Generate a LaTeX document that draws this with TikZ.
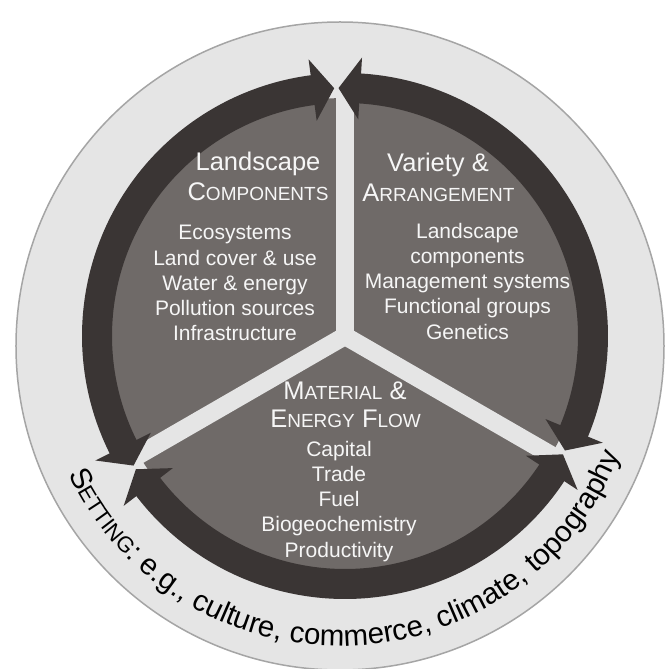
\documentclass[tikz,border=0pt]{standalone}
\usepackage{fontspec}
\setmainfont{Liberation Sans}
\usetikzlibrary{decorations.text}
\definecolor{bgring}{RGB}{229,229,229}
\definecolor{rimgray}{RGB}{165,165,165}
\definecolor{arrowdark}{RGB}{58,53,52}
\definecolor{sectorgray}{RGB}{111,106,104}
\definecolor{lighttext}{RGB}{246,246,246}
\newcommand{\HeadFont}{\fontsize{25.5}{28}\selectfont}
\newcommand{\ScFont}{\fontsize{19}{21}\selectfont}
\newcommand{\ListFont}{\fontsize{21}{23}\selectfont}
\newcommand{\SetBig}{\fontsize{29.5}{32}\selectfont}
\newcommand{\SetSmall}{\fontsize{22}{24}\selectfont}
\begin{document}
\begin{tikzpicture}[x=1pt,y=1pt,
  headtext/.style={anchor=base, text=lighttext, font=\HeadFont, inner sep=0pt},
  itemtext/.style={anchor=base, text=lighttext, font=\ListFont, inner sep=0pt},
  band/.style={draw=arrowdark, line width=30pt},
  gapstrip/.style={draw=bgring, line width=18pt}]

\useasboundingbox (-343,-329) rectangle (322,340);
\fill[white] (-343,-329) rectangle (322,340);
\filldraw[fill=bgring, draw=rimgray, line width=1.5pt] (-3,-6) circle[radius=324];

\begin{scope}[shift={(2,4)}]
  \fill[sectorgray] (0,0) circle[radius=238];
  \foreach \a in {90,210,330} \draw[gapstrip] (0,0) -- (\a:252);
  \foreach \s/\e in {97.2/206.8, 217.2/326.8, -22.8/86.8}
    \draw[band] (\s:248) arc[start angle=\s, end angle=\e, radius=248];
  \foreach \t/\b in {92.5/97.5, 211.5/206.5, 212.5/217.5, 331.5/326.5, -27.5/-22.5, 91.5/86.5}
    \fill[arrowdark] (\t:248) -- (\b:279) -- (\b:217) -- cycle;
\end{scope}

% left sector
\node[headtext] (lc1) at (-85,169) {Landscape};
\node[headtext] (lc2) at (-85,139) {C{\ScFont OMPONENTS}};
\node[itemtext] (li1) at (-108,100) {Ecosystems};
\node[itemtext] (li2) at (-108,74.8) {Land cover \& use};
\node[itemtext] (li3) at (-108,49.6) {Water \& energy};
\node[itemtext] (li4) at (-108,24.4) {Pollution sources};
\node[itemtext] (li5) at (-108,-0.8) {Infrastructure};

% right sector
\node[headtext] (va1) at (95,168.5) {Variety \&};
\node[headtext] (va2) at (95.5,138.5) {A{\ScFont RRANGEMENT}};
\node[itemtext] (ri1) at (124.5,101.7) {Landscape};
\node[itemtext] (ri2) at (124.5,76.5) {components};
\node[itemtext] (ri3) at (124.5,51.3) {Management systems};
\node[itemtext] (ri4) at (124.5,26.1) {Functional groups};
\node[itemtext] (ri5) at (124.5,0.9) {Genetics};

% bottom sector
\node[headtext] (mf1) at (2,-59.5) {M{\ScFont ATERIAL} \&};
\node[headtext] (mf2) at (2.6,-87.5) {E{\ScFont NERGY} F{\ScFont LOW}};
\node[itemtext] (bi1) at (-4,-116) {Capital};
\node[itemtext] (bi2) at (-4,-141.3) {Trade};
\node[itemtext] (bi3) at (-4,-166.6) {Fuel};
\node[itemtext] (bi4) at (-4,-191.9) {Biogeochemistry};
\node[itemtext] (bi5) at (-4,-217.2) {Productivity};

% setting text
\begin{scope}[shift={(-3,-6)}]
  \path[decorate, decoration={text along path, text color=black, text align=center,
    text={|\SetBig|S|\SetSmall|ETTING|\SetBig|: e.g., culture, commerce, climate, topography}}]
    (198:300) arc[start angle=198, end angle=346, radius=300];
\end{scope}
\end{tikzpicture}
\end{document}
